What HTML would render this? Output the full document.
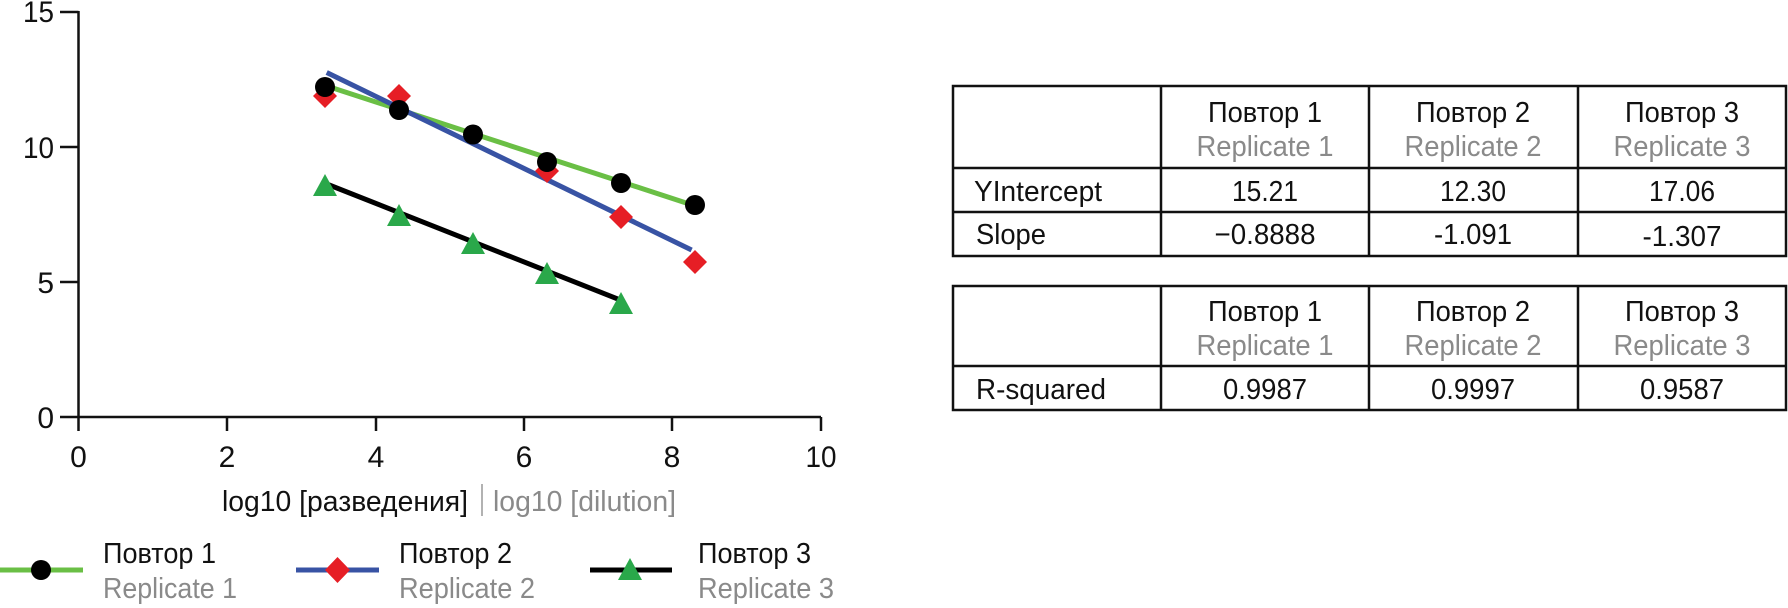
<!DOCTYPE html>
<html><head><meta charset="utf-8"><style>html,body{margin:0;padding:0;background:#fff}svg{display:block}text{font-family:"Liberation Sans",sans-serif}</style></head>
<body>
<svg width="1788" height="608" viewBox="0 0 1788 608" xmlns="http://www.w3.org/2000/svg">
<g stroke="#111" stroke-width="2.5" fill="none">
<line x1="78.5" y1="11" x2="78.5" y2="417"/>
<line x1="78.5" y1="417" x2="821" y2="417"/>
<line x1="60" y1="12" x2="78.5" y2="12"/>
<line x1="60" y1="147" x2="78.5" y2="147"/>
<line x1="60" y1="282" x2="78.5" y2="282"/>
<line x1="60" y1="417" x2="78.5" y2="417"/>
<line x1="78.5" y1="417" x2="78.5" y2="431"/>
<line x1="227" y1="417" x2="227" y2="431"/>
<line x1="376" y1="417" x2="376" y2="431"/>
<line x1="524" y1="417" x2="524" y2="431"/>
<line x1="672" y1="417" x2="672" y2="431"/>
<line x1="821" y1="417" x2="821" y2="431"/>
</g>
<g font-size="30" fill="#111" text-anchor="end" lengthAdjust="spacingAndGlyphs">
<text x="54" y="22" textLength="31" lengthAdjust="spacingAndGlyphs">15</text><text x="54" y="158" textLength="31" lengthAdjust="spacingAndGlyphs">10</text><text x="54" y="293">5</text><text x="54" y="428">0</text>
</g>
<g font-size="30" fill="#111" text-anchor="middle">
<text x="78.5" y="467">0</text><text x="227" y="467">2</text><text x="376" y="467">4</text><text x="524" y="467">6</text><text x="672" y="467">8</text><text x="821" y="467" textLength="31" lengthAdjust="spacingAndGlyphs">10</text>
</g>
<text x="222" y="511" font-size="29" fill="#111" textLength="246" lengthAdjust="spacingAndGlyphs">log10 [разведения]</text>
<line x1="482" y1="484" x2="482" y2="516" stroke="#999" stroke-width="1.5"/>
<text x="493" y="511" font-size="29" fill="#8a8a8a" textLength="183" lengthAdjust="spacingAndGlyphs">log10 [dilution]</text>

<line x1="326.7" y1="86" x2="691.6" y2="204.7" stroke="#6abf45" stroke-width="5"/>
<line x1="326.7" y1="72.5" x2="691.6" y2="250" stroke="#3853a4" stroke-width="5"/>
<line x1="326.7" y1="184" x2="621.4" y2="300.4" stroke="#000" stroke-width="5"/>
<g fill="#e61e25">
<polygon points="325,84 337,96 325,108 313,96"/>
<polygon points="399,84 411,96 399,108 387,96"/>
<polygon points="547,159 559,171 547,183 535,171"/>
<polygon points="621,205 633,217 621,229 609,217"/>
<polygon points="695,250 707,262 695,274 683,262"/>
</g>
<g fill="#000">
<circle cx="325" cy="87" r="10"/><circle cx="399" cy="110" r="10"/><circle cx="473" cy="134.5" r="10"/>
<circle cx="547" cy="162" r="10"/><circle cx="621" cy="183" r="10"/><circle cx="695" cy="205" r="10"/>
</g>
<g fill="#2aa84a">
<polygon points="325,174 337,196 313,196"/>
<polygon points="399,204 411,226 387,226"/>
<polygon points="473,232 485,254 461,254"/>
<polygon points="547,262 559,284 535,284"/>
<polygon points="621,292 633,314 609,314"/>
</g>

<line x1="0" y1="570" x2="83" y2="570" stroke="#6abf45" stroke-width="5"/>
<circle cx="41" cy="570" r="10" fill="#000"/>
<line x1="296" y1="570" x2="379" y2="570" stroke="#3853a4" stroke-width="5"/>
<polygon points="337.5,557 350,570 337.5,583 325,570" fill="#e61e25"/>
<line x1="590" y1="570" x2="672" y2="570" stroke="#000" stroke-width="5"/>
<polygon points="630,558 642,580 618,580" fill="#2aa84a"/>
<g font-size="29">
<text x="103" y="563" fill="#111" textLength="113" lengthAdjust="spacingAndGlyphs">Повтор 1</text><text x="103" y="598" fill="#8a8a8a" textLength="134" lengthAdjust="spacingAndGlyphs">Replicate 1</text>
<text x="399" y="563" fill="#111" textLength="113" lengthAdjust="spacingAndGlyphs">Повтор 2</text><text x="399" y="598" fill="#8a8a8a" textLength="136" lengthAdjust="spacingAndGlyphs">Replicate 2</text>
<text x="698" y="563" fill="#111" textLength="113" lengthAdjust="spacingAndGlyphs">Повтор 3</text><text x="698" y="598" fill="#8a8a8a" textLength="136" lengthAdjust="spacingAndGlyphs">Replicate 3</text>
</g>

<g stroke="#111" stroke-width="2.5" fill="none">
<rect x="953" y="86" width="833" height="170"/>
<line x1="953" y1="168" x2="1786" y2="168"/>
<line x1="953" y1="212" x2="1786" y2="212"/>
<line x1="1161" y1="86" x2="1161" y2="256"/>
<line x1="1369" y1="86" x2="1369" y2="256"/>
<line x1="1578" y1="86" x2="1578" y2="256"/>
<rect x="953" y="286" width="833" height="124"/>
<line x1="953" y1="366" x2="1786" y2="366"/>
<line x1="1161" y1="286" x2="1161" y2="410"/>
<line x1="1369" y1="286" x2="1369" y2="410"/>
<line x1="1578" y1="286" x2="1578" y2="410"/>
</g>
<g font-size="29" text-anchor="middle">
<text x="1265" y="122" fill="#111" textLength="114" lengthAdjust="spacingAndGlyphs">Повтор 1</text><text x="1265" y="156" fill="#8a8a8a" textLength="137" lengthAdjust="spacingAndGlyphs">Replicate 1</text>
<text x="1473" y="122" fill="#111" textLength="114" lengthAdjust="spacingAndGlyphs">Повтор 2</text><text x="1473" y="156" fill="#8a8a8a" textLength="137" lengthAdjust="spacingAndGlyphs">Replicate 2</text>
<text x="1682" y="122" fill="#111" textLength="114" lengthAdjust="spacingAndGlyphs">Повтор 3</text><text x="1682" y="156" fill="#8a8a8a" textLength="137" lengthAdjust="spacingAndGlyphs">Replicate 3</text>
<text x="1265" y="201" fill="#111" textLength="66" lengthAdjust="spacingAndGlyphs">15.21</text><text x="1473" y="201" fill="#111" textLength="66" lengthAdjust="spacingAndGlyphs">12.30</text><text x="1682" y="201" fill="#111" textLength="66" lengthAdjust="spacingAndGlyphs">17.06</text>
<text x="1265" y="244" fill="#111" textLength="101" lengthAdjust="spacingAndGlyphs">−0.8888</text><text x="1473" y="244" fill="#111" textLength="78" lengthAdjust="spacingAndGlyphs">-1.091</text><text x="1682" y="246" fill="#111" textLength="79" lengthAdjust="spacingAndGlyphs">-1.307</text>
<text x="1265" y="321" fill="#111" textLength="114" lengthAdjust="spacingAndGlyphs">Повтор 1</text><text x="1265" y="355" fill="#8a8a8a" textLength="137" lengthAdjust="spacingAndGlyphs">Replicate 1</text>
<text x="1473" y="321" fill="#111" textLength="114" lengthAdjust="spacingAndGlyphs">Повтор 2</text><text x="1473" y="355" fill="#8a8a8a" textLength="137" lengthAdjust="spacingAndGlyphs">Replicate 2</text>
<text x="1682" y="321" fill="#111" textLength="114" lengthAdjust="spacingAndGlyphs">Повтор 3</text><text x="1682" y="355" fill="#8a8a8a" textLength="137" lengthAdjust="spacingAndGlyphs">Replicate 3</text>
<text x="1265" y="399" fill="#111" textLength="84" lengthAdjust="spacingAndGlyphs">0.9987</text><text x="1473" y="399" fill="#111" textLength="84" lengthAdjust="spacingAndGlyphs">0.9997</text><text x="1682" y="399" fill="#111" textLength="84" lengthAdjust="spacingAndGlyphs">0.9587</text>
</g>
<g font-size="29" fill="#111">
<text x="974" y="201" textLength="128" lengthAdjust="spacingAndGlyphs">YIntercept</text>
<text x="976" y="244" textLength="70" lengthAdjust="spacingAndGlyphs">Slope</text>
<text x="976" y="399" textLength="130" lengthAdjust="spacingAndGlyphs">R-squared</text>
</g>
</svg>
</body></html>
